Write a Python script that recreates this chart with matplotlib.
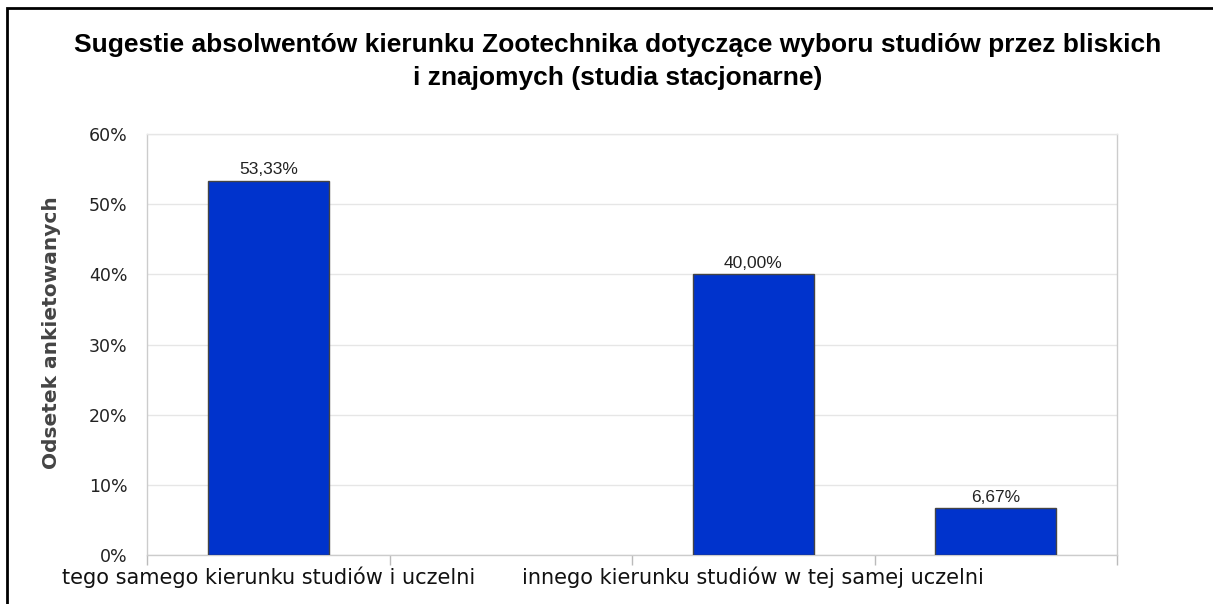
import matplotlib
matplotlib.use("Agg")
import matplotlib.pyplot as plt
from matplotlib.patches import Rectangle
import numpy as np

categories = ["tego samego kierunku studiów i uczelni", "", "innego kierunku studiów w tej samej uczelni", ""]
values = [53.33, 0.0, 40.00, 6.67]
value_labels = ["53,33%", "", "40,00%", "6,67%"]
yticks = [0, 10, 20, 30, 40, 50, 60]
ytick_labels = ["0%", "10%", "20%", "30%", "40%", "50%", "60%"]
title_lines = ["Sugestie absolwentów kierunku Zootechnika dotyczące wyboru studiów przez bliskich",
               "i znajomych (studia stacjonarne)"]
ylabel = "Odsetek ankietowanych"

W, H = 1213, 604
fig = plt.figure(figsize=(W / 100, H / 100), dpi=100)
fig.patch.set_facecolor("white")

# outer frame (right and bottom edges lie outside the picture)
fig.patches.append(Rectangle((7 / W, -0.1), 1.2, 1.1 - 8 / H, transform=fig.transFigure,
                             fill=False, edgecolor="black", linewidth=2))

ax = fig.add_axes([147 / W, (H - 555) / H, (1117 - 147) / W, (555 - 134) / H])
x = np.arange(len(values))
edge_w = [1 if v > 0 else 0 for v in values]
ax.bar(x, values, width=0.5, color="#0033CC", edgecolor="#444444", linewidth=edge_w, zorder=3)
for xi, v, lab in zip(x, values, value_labels):
    if lab:
        ax.text(xi, v + 0.5, lab, ha="center", va="bottom", fontsize=12.5,
                family="Liberation Sans", color="#222222")

ax.set_xlim(-0.5, len(values) - 0.5)
ax.set_ylim(0, 60)
ax.set_yticks(yticks)
ax.set_yticklabels(ytick_labels, fontsize=12.5, family="DejaVu Sans", color="#222222")
ax.set_xticks(x)
ax.set_xticklabels(categories, fontsize=15, family="DejaVu Sans", color="#111111")
ax.set_xticks(np.arange(-0.5, len(values)), minor=True)
ax.tick_params(axis="x", which="major", length=0, pad=8)
ax.tick_params(axis="x", which="minor", length=7, color="#bbbbbb", width=1)
ax.tick_params(axis="y", length=0, pad=14)
ax.grid(axis="y", color="#e6e6e6", linewidth=1, zorder=0)
for s in ["left", "right", "bottom", "top"]:
    ax.spines[s].set_color("#cccccc")
    ax.spines[s].set_linewidth(1)
ax.spines["top"].set_color("#e6e6e6")
ax.set_ylabel(ylabel, fontsize=14.5, fontweight="bold", family="DejaVu Sans", color="#444444")
ax.yaxis.set_label_coords((61 - 147) / (1117 - 147), (555 - 333) / (555 - 134))

fig.text(618 / W, 1 - 52 / H, title_lines[0], ha="center", va="baseline", fontsize=19,
         fontweight="bold", family="Liberation Sans")
fig.text(618 / W, 1 - 85 / H, title_lines[1], ha="center", va="baseline", fontsize=19,
         fontweight="bold", family="Liberation Sans")

fig.savefig("out.png", dpi=100)
